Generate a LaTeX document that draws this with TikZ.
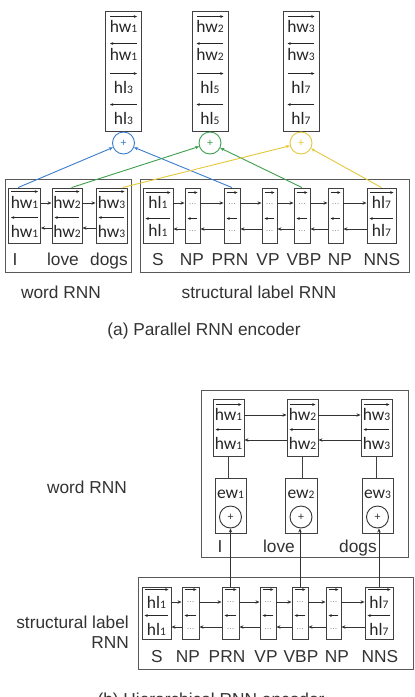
\documentclass[tikz,border=0pt]{standalone}
\usepackage{fontspec}
\setmainfont{Liberation Sans}
\newfontfamily\cellfont{Carlito}
\usetikzlibrary{arrows.meta,calc}
\definecolor{cblue}{RGB}{58,125,205}
\definecolor{cgreen}{RGB}{60,160,78}
\definecolor{cyell}{RGB}{230,200,60}
\newcommand\subd[1]{{\fontsize{11.5}{11.5}\selectfont #1}}
\newcommand\cx[2]{{\cellfont\fontsize{17.5}{18}\selectfont #1\subd{#2}}}
\tikzset{
  frame/.style={draw=black!65, line width=0.9pt},
  cellbox/.style={draw=black!75, line width=0.9pt, rectangle, inner sep=0pt},
  ovr/.style={-{Stealth[length=3.2pt,width=2.8pt]}, line width=0.7pt, draw=black!85},
  link/.style={-{Stealth[length=4pt,width=3.4pt]}, line width=0.8pt, draw=black!80},
  plain/.style={line width=0.8pt, draw=black!75},
  lbl/.style={font=\fontsize{17.3}{18}\selectfont, text=black!80, anchor=base, inner sep=0pt},
  ctext/.style={anchor=base, inner sep=0pt, text=black!85},
  dotsn/.style={text=black!45, font=\fontsize{9}{9}\selectfont, inner sep=0pt},
  sumc/.style={circle, draw, minimum size=22pt, inner sep=0pt, line width=0.9pt, font=\fontsize{11}{11}\selectfont},
  cline/.style={-{Stealth[length=4pt,width=3.4pt]}, line width=0.9pt},
}
\begin{document}
\begin{tikzpicture}[x=1pt,y=-1pt]
\useasboundingbox (0,0) rectangle (415,697);
\fill[white] (0,0) rectangle (415,697);

% ================= (a) =================
% top concatenation boxes
\foreach \n/\x/\a/\b in {tb1/123.5/1/3, tb2/210/2/5, tb3/301/3/7} {
  \node[cellbox, minimum width=36pt, minimum height=120pt] (\n) at (\x,71) {};
  \draw[ovr] ($(\n.north west)+(5,6)$) -- ($(\n.north east)+(-5,6)$);
  \draw[ovr] ($(\n.north east)+(-5,33)$) -- ($(\n.north west)+(5,33)$);
  \draw[ovr] ($(\n.north west)+(5,63)$) -- ($(\n.north east)+(-5,63)$);
  \draw[ovr] ($(\n.north east)+(-5,94)$) -- ($(\n.north west)+(5,94)$);
  \node[ctext] (\n-r1) at (\x,32) {\cx{hw}{\a}};
  \node[ctext] (\n-r2) at (\x,60) {\cx{hw}{\a}};
  \node[ctext] (\n-r3) at (\x,93) {\cx{hl}{\b}};
  \node[ctext] (\n-r4) at (\x,124) {\cx{hl}{\b}};
}
\node[sumc, draw=cblue, text=cblue] (ca1) at (123.5,143) {+};
\node[sumc, draw=cgreen, text=cgreen] (ca2) at (210,143) {+};
\node[sumc, draw=cyell, text=cyell] (ca3) at (301,143) {+};

% frames
\node[frame, rectangle, minimum width=126pt, minimum height=93pt, inner sep=0pt] (fwa) at (68,225.5) {};
\node[frame, rectangle, minimum width=269pt, minimum height=93pt, inner sep=0pt] (fsa) at (274.5,225.5) {};

% word cells
\foreach \n/\x/\w/\i in {aw1/24.5/32/1, aw2/67/30/2, aw3/111.5/31/3} {
  \node[cellbox, minimum width=\w pt, minimum height=55pt] (\n) at (\x,215.5) {};
  \draw[ovr] ($(\n.north west)+(3,4)$) -- ($(\n.north east)+(-3,4)$);
  \draw[ovr] ($(\n.north east)+(-3,30)$) -- ($(\n.north west)+(3,30)$);
  \node[ctext] (\n-t1) at (\x,208) {\cx{hw}{\i}};
  \node[ctext] (\n-t2) at (\x,237) {\cx{hw}{\i}};
}
\coordinate (raw) at (0,203);
\coordinate (law) at (0,228);
\foreach \p/\q in {aw1/aw2, aw2/aw3} {
  \draw[link] (\p.east |- raw) -- (\q.west |- raw);
  \draw[link] (\q.west |- law) -- (\p.east |- law);
}

% structural label cells
\foreach \n/\x/\w in {as1/158/30, as2/192.5/15, as3/232/16, as4/269.5/15, as5/302/16, as6/335.5/15, as7/381.5/29} {
  \node[cellbox, minimum width=\w pt, minimum height=55pt] (\n) at (\x,215.5) {};
  \draw[ovr] ($(\n.north west)+(3,5)$) -- ($(\n.north east)+(-3,5)$);
  \draw[ovr] ($(\n.north east)+(-3,31)$) -- ($(\n.north west)+(3,31)$);
}
\node[ctext] (as1-t1) at (158,208) {\cx{hl}{1}};
\node[ctext] (as1-t2) at (158,236) {\cx{hl}{1}};
\node[ctext] (as7-t1) at (381.5,208) {\cx{hl}{7}};
\node[ctext] (as7-t2) at (381.5,236) {\cx{hl}{7}};
\foreach \n/\x in {as2/192.5, as3/232, as4/269.5, as5/302, as6/335.5} {
  \node[dotsn] (\n-d1) at (\x,204) {...};
  \node[dotsn] (\n-d2) at (\x,231) {...};
}
\coordinate (ras) at (0,203);
\coordinate (las) at (0,229);
\foreach \p/\q in {as1/as2, as2/as3, as3/as4, as4/as5, as5/as6, as6/as7} {
  \draw[link] (\p.east |- ras) -- (\q.west |- ras);
  \draw[link] (\q.west |- las) -- (\p.east |- las);
}

% coloured connectors
\coordinate (bw1) at ($(aw1.north west)+(10,0)$);
\coordinate (gw2) at ($(aw2.north west)+(20,0)$);
\coordinate (yw3) at ($(aw3.north west)+(27,0)$);
\draw[cline, cblue] (bw1) -- (ca1);
\draw[cline, cblue] (as3.north) -- (ca1);
\draw[cline, cgreen] (gw2) -- (ca2);
\draw[cline, cgreen] (as5.north) -- (ca2);
\draw[cline, cyell] (yw3) -- (ca3);
\draw[cline, cyell] (as7.north) -- (ca3);

% labels (a)
\node[lbl] (la-I) at (15,265) {I};
\node[lbl] (la-love) at (63,265) {love};
\node[lbl] (la-dogs) at (109,265) {dogs};
\node[lbl] (la-S) at (158,265) {S};
\node[lbl] (la-NP1) at (192,265) {NP};
\node[lbl] (la-PRN) at (230,265) {PRN};
\node[lbl] (la-VP) at (268,265) {VP};
\node[lbl] (la-VBP) at (304,265) {VBP};
\node[lbl] (la-NP2) at (340,265) {NP};
\node[lbl] (la-NNS) at (382,265) {NNS};
\node[lbl] (la-word) at (61,298) {word RNN};
\node[lbl] (la-struct) at (259,298) {structural label RNN};
\node[lbl] (cap-a) at (204,335.5) {(a) Parallel RNN encoder};

% ================= (b) =================
\node[frame, rectangle, minimum width=207pt, minimum height=167pt, inner sep=0pt] (fwb) at (304.5,473.5) {};
\node[frame, rectangle, minimum width=275pt, minimum height=92pt, inner sep=0pt] (fsb) at (275.5,623) {};

\foreach \n/\x/\i in {hb1/228.5/1, hb2/302.5/2, hb3/376.5/3} {
  \node[cellbox, minimum width=31pt, minimum height=57pt] (\n) at (\x,427.5) {};
  \draw[ovr] ($(\n.north west)+(3,6)$) -- ($(\n.north east)+(-3,6)$);
  \draw[ovr] ($(\n.north east)+(-3,31)$) -- ($(\n.north west)+(3,31)$);
  \node[ctext] (\n-t1) at (\x,420) {\cx{hw}{\i}};
  \node[ctext] (\n-t2) at (\x,449) {\cx{hw}{\i}};
}
\coordinate (rhb) at (0,415);
\coordinate (lhb) at (0,440);
\foreach \p/\q in {hb1/hb2, hb2/hb3} {
  \draw[link] (\p.east |- rhb) -- (\q.west |- rhb);
  \draw[link] (\q.west |- lhb) -- (\p.east |- lhb);
}
\foreach \n/\x/\w/\i in {eb1/230.5/31/1, eb2/301/32/2, eb3/377.5/31/3} {
  \node[cellbox, minimum width=\w pt, minimum height=55pt] (\n) at (\x,505.5) {};
  \node[ctext] (\n-t) at (\x,498) {\cx{ew}{\i}};
  \node[sumc, draw=black!80, text=black!80] (\n-c) at (\x,517) {+};
}
\draw[plain] (hb1.south) -- (hb1.south |- eb1.north);
\draw[plain] (hb2.south) -- (hb2.south |- eb2.north);
\draw[plain] (hb3.south) -- (hb3.south |- eb3.north);

\node[lbl] (lb-I) at (220,552) {I};
\node[lbl] (lb-love) at (279,552) {love};
\node[lbl] (lb-dogs) at (358,552) {dogs};

% structural cells (b)
\foreach \n/\x/\w in {bs1/156.5/29, bs2/190.5/17, bs3/230.5/17, bs4/268/16, bs5/300/16, bs6/333.5/15, bs7/379/28} {
  \node[cellbox, minimum width=\w pt, minimum height=52pt] (\n) at (\x,613) {};
  \draw[ovr] ($(\n.north west)+(3,3)$) -- ($(\n.north east)+(-3,3)$);
  \draw[ovr] ($(\n.north east)+(-3,29)$) -- ($(\n.north west)+(3,29)$);
}
\node[ctext] (bs1-t1) at (156.5,608) {\cx{hl}{1}};
\node[ctext] (bs1-t2) at (156.5,635) {\cx{hl}{1}};
\node[ctext] (bs7-t1) at (379,608) {\cx{hl}{7}};
\node[ctext] (bs7-t2) at (379,635) {\cx{hl}{7}};
\foreach \n/\x in {bs2/190.5, bs3/230.5, bs4/268, bs5/300, bs6/333.5} {
  \node[dotsn] (\n-d1) at (\x,602) {...};
  \node[dotsn] (\n-d2) at (\x,629) {...};
}
\coordinate (rbs) at (0,602);
\coordinate (lbs) at (0,627);
\foreach \p/\q in {bs1/bs2, bs2/bs3, bs3/bs4, bs4/bs5, bs5/bs6, bs6/bs7} {
  \draw[link] (\p.east |- rbs) -- (\q.west |- rbs);
  \draw[link] (\q.west |- lbs) -- (\p.east |- lbs);
}
\draw[link] (bs3.north) -- (bs3.north |- eb1-c.south);
\draw[link] (bs5.north) -- (bs5.north |- eb2-c.south);
\draw[link] (bs7.north) -- (bs7.north |- eb3-c.south);

\node[lbl] (lb-S) at (157,662) {S};
\node[lbl] (lb-NP1) at (188,662) {NP};
\node[lbl] (lb-PRN) at (227,662) {PRN};
\node[lbl] (lb-VP) at (266,662) {VP};
\node[lbl] (lb-VBP) at (301,662) {VBP};
\node[lbl] (lb-NP2) at (337,662) {NP};
\node[lbl] (lb-NNS) at (380,662) {NNS};

\node[lbl] (lb-word) at (87,493) {word RNN};
\node[lbl, anchor=base east] (lb-struct1) at (129,628) {structural label};
\node[lbl, anchor=base east] (lb-struct2) at (129,648) {RNN};
\node[lbl] (cap-b) at (211,705) {(b) Hierarchical RNN encoder};
\end{tikzpicture}
\end{document}
